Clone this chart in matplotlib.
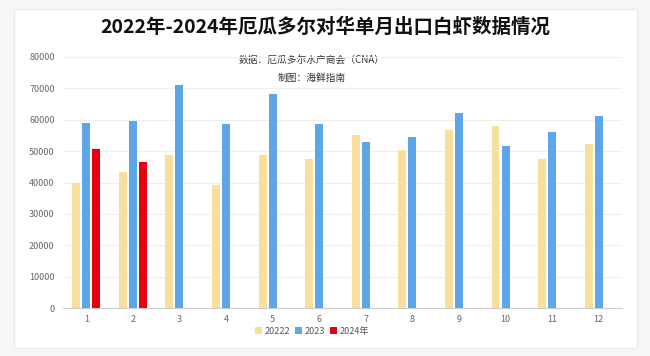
import matplotlib.pyplot as plt
from matplotlib.patches import Rectangle

plt.rcParams['font.family'] = ['Noto Sans CJK SC', 'DejaVu Sans']

months = [1, 2, 3, 4, 5, 6, 7, 8, 9, 10, 11, 12]
y2022 = [40000, 43500, 48700, 39200, 48700, 47500, 55100, 50400, 56700, 58000, 47600, 52400]
y2023 = [59000, 59500, 71000, 58500, 68300, 58700, 52900, 54400, 62000, 51600, 56100, 61200]
y2024 = [50700, 46500]
labels = ['20222', '2023', '2024年']
colors = ['#F8DF9C', '#5DA6E8', '#E60012']

fig = plt.figure(figsize=(6.5, 3.56), dpi=100)
fig.patch.set_facecolor('#f6f6f6')
# white card with soft edge
card = Rectangle((14 / 650, 8 / 356), 623 / 650, 339 / 356, transform=fig.transFigure,
                 facecolor='white', edgecolor='#ebebeb', lw=1.0, zorder=-10)
fig.patches.append(card)

ax = fig.add_axes([63 / 650, 48 / 356, 559 / 650, 251 / 356])
ax.set_facecolor('none')
ax.set_zorder(5)

w = 0.17
off = 0.215
ax.bar([m - off for m in months], y2022, width=w, color=colors[0], label=labels[0], zorder=2)
ax.bar(months, y2023, width=w, color=colors[1], label=labels[1], zorder=2)
ax.bar([m + off for m in months[:len(y2024)]], y2024, width=w, color=colors[2], label=labels[2], zorder=2)

ax.set_xlim(0.5, 12.5)
ax.set_ylim(0, 80000)
ax.set_xticks(months)
ax.set_yticks(range(0, 80001, 10000))
ax.grid(axis='y', color='#eeeeee', lw=0.8, zorder=0)
for s in ['top', 'right', 'left']:
    ax.spines[s].set_visible(False)
ax.spines['bottom'].set_color('#cccccc')
ax.tick_params(length=0, labelsize=6.5, colors='#666666', pad=6)
ax.tick_params(axis='x', pad=5)

fig.text(0.5, 0.925, '2022年-2024年厄瓜多尔对华单月出口白虾数据情况', ha='center', va='center',
         fontsize=14, fontweight='bold', color='#111111')
fig.text(0.48, 0.832, '数据：厄瓜多尔水产商会（CNA）', ha='center', va='center', fontsize=7, color='#333333')
fig.text(0.48, 0.782, '制图：海鲜指南', ha='center', va='center', fontsize=7, color='#333333')

fig.legend(loc='center', bbox_to_anchor=(0.48, 0.07), ncol=3, fontsize=6.5, frameon=False,
           handlelength=0.7, handleheight=0.7, handletextpad=0.3, columnspacing=0.6,
           labelcolor='#555555')

fig.savefig('out.png', dpi=100, facecolor=fig.get_facecolor())
